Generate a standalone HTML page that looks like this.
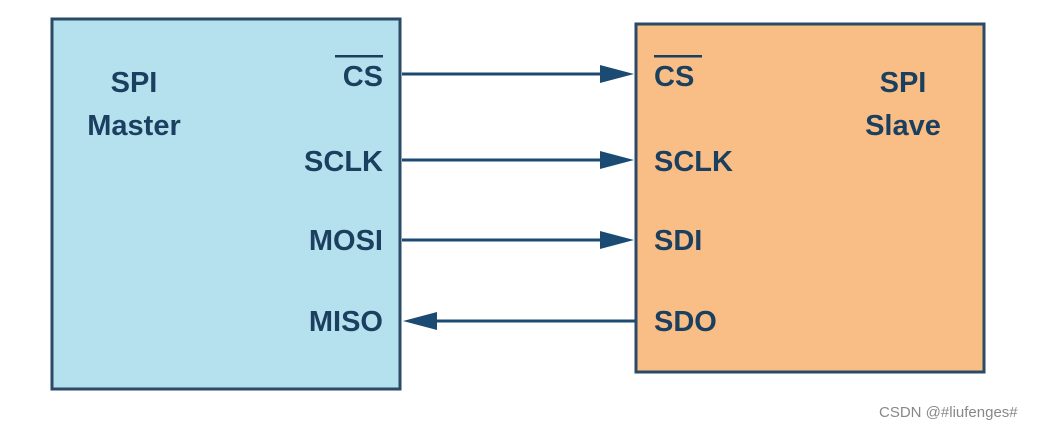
<!DOCTYPE html>
<html><head><style>
body{margin:0;background:#fff;}
svg text{font-family:"Liberation Sans",Arial,sans-serif;font-weight:bold;fill:#1b3f5f;font-size:29px;}
</style></head><body>
<svg width="1044" height="430" xmlns="http://www.w3.org/2000/svg">
<rect x="52" y="19" width="348" height="370" fill="#b5e1ef" stroke="#2a4a66" stroke-width="3"/>
<rect x="636" y="24" width="348" height="348" fill="#f9bd86" stroke="#2a4a66" stroke-width="3"/>
<g stroke="#1b4a73" stroke-width="3">
<line x1="402" y1="74" x2="605" y2="74"/>
<line x1="402" y1="160" x2="605" y2="160"/>
<line x1="402" y1="240" x2="605" y2="240"/>
<line x1="432" y1="321" x2="635" y2="321"/>
</g>
<g fill="#1b4a73">
<polygon points="600,65 634,74 600,83"/>
<polygon points="600,151 634,160 600,169"/>
<polygon points="600,231 634,240 600,249"/>
<polygon points="437,312 403,321 437,330"/>
</g>
<text x="134" y="92" text-anchor="middle">SPI</text>
<text x="134" y="135" text-anchor="middle">Master</text>
<text x="383" y="86" text-anchor="end">CS</text>
<rect x="335" y="55" width="48" height="2.5" fill="#1b3f5f"/>
<text x="383" y="171" text-anchor="end">SCLK</text>
<text x="383" y="250" text-anchor="end">MOSI</text>
<text x="383" y="331" text-anchor="end">MISO</text>
<text x="654" y="86">CS</text>
<rect x="654" y="55" width="48" height="2.5" fill="#1b3f5f"/>
<text x="654" y="171">SCLK</text>
<text x="654" y="250">SDI</text>
<text x="654" y="331">SDO</text>
<text x="903" y="92" text-anchor="middle">SPI</text>
<text x="903" y="135" text-anchor="middle">Slave</text>
<text x="879" y="417" style="font-weight:normal;font-size:15px;fill:#888">CSDN @#liufenges#</text>
</svg>
</body></html>
